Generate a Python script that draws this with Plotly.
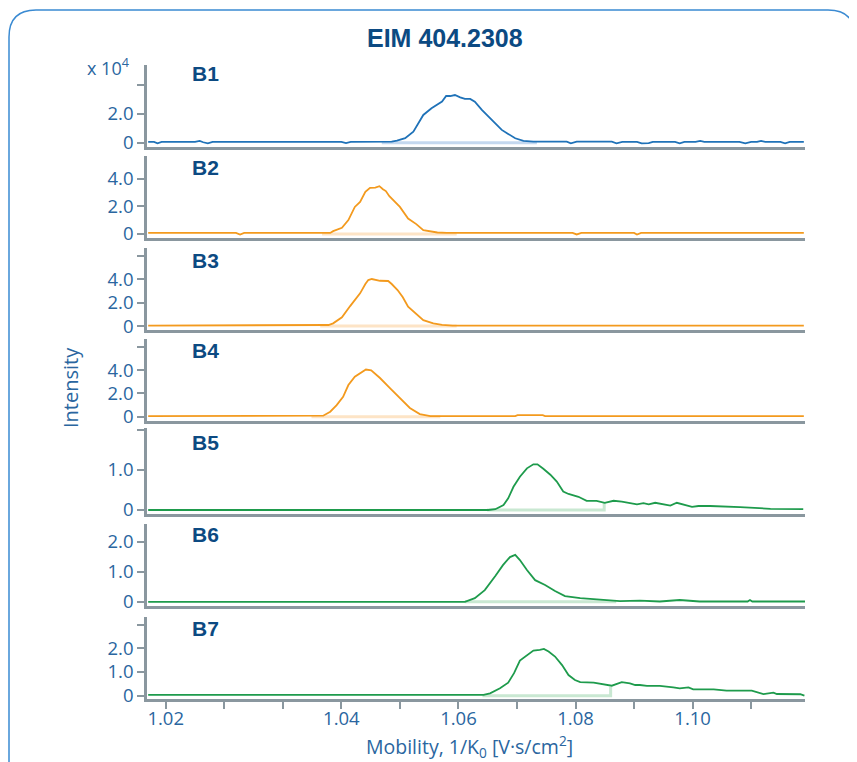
import plotly.graph_objects as go

# ---------------- data ----------------
panel_names = ["B1", "B2", "B3", "B4", "B5", "B6", "B7"]

b1_x = [1.0070, 1.0080, 1.0086, 1.0093, 1.0150, 1.0158, 1.0164, 1.0172, 1.0180, 1.0250, 1.0320, 1.0400,
        1.0408, 1.0416, 1.0486, 1.0495, 1.0509, 1.0523, 1.0540, 1.0554, 1.0572, 1.0579, 1.0586, 1.0594,
        1.0603, 1.0611, 1.0620, 1.0628, 1.0640, 1.0651, 1.0663, 1.0674, 1.0685, 1.0697, 1.0711, 1.0728,
        1.0785, 1.0792, 1.0802, 1.0862, 1.0870, 1.0880, 1.0905, 1.0913, 1.0925, 1.0932, 1.0970, 1.0978,
        1.0986, 1.1005, 1.1013, 1.1020, 1.1080, 1.1090, 1.1100, 1.1110, 1.1117, 1.1124, 1.1150, 1.1158,
        1.1166, 1.1190]
b1_y = [0.06, 0.05, -0.04, 0.05, 0.06, 0.12, 0.03, -0.05, 0.05, 0.06, 0.06, 0.06,
        -0.03, 0.05, 0.07, 0.14, 0.31, 0.77, 1.93, 2.40, 2.86, 3.25, 3.25, 3.32,
        3.16, 3.05, 3.05, 2.86, 2.28, 1.81, 1.35, 0.89, 0.61, 0.31, 0.12, 0.07,
        0.07, -0.05, 0.07, 0.07, -0.04, 0.06, 0.06, -0.05, -0.03, 0.06, 0.06, -0.04,
        0.06, 0.06, 0.12, 0.05, 0.05, -0.05, 0.06, 0.06, 0.13, 0.05, 0.05, -0.04,
        0.06, 0.06]

b2_x = [1.0070, 1.0220, 1.0227, 1.0234, 1.0381, 1.0386, 1.0401, 1.0412, 1.0423, 1.0432, 1.0441, 1.0449,
        1.0458, 1.0465, 1.0471, 1.0476, 1.0482, 1.0492, 1.0500, 1.0514, 1.0528, 1.0540, 1.0553, 1.0564,
        1.0580, 1.0795, 1.0802, 1.0810, 1.0900, 1.0905, 1.0912, 1.1190]
b2_y = [0.07, 0.07, -0.05, 0.07, 0.07, 0.20, 0.44, 1.00, 1.96, 2.33, 3.05, 3.35,
        3.37, 3.47, 3.25, 3.11, 2.74, 2.33, 1.96, 1.12, 0.71, 0.27, 0.20, 0.10,
        0.07, 0.07, -0.04, 0.07, 0.07, -0.05, 0.07, 0.07]

b3_x = [1.0070, 1.0370, 1.0378, 1.0386, 1.0401, 1.0415, 1.0432, 1.0441, 1.0446, 1.0452, 1.0466, 1.0480,
        1.0486, 1.0496, 1.0505, 1.0514, 1.0526, 1.0540, 1.0557, 1.0572, 1.0590, 1.1190]
b3_y = [0.03, 0.03, 0.09, 0.23, 0.75, 1.71, 2.80, 3.60, 3.94, 4.03, 3.88, 3.86,
        3.60, 3.08, 2.46, 1.65, 1.10, 0.51, 0.23, 0.09, 0.03, 0.03]

b4_x = [1.0070, 1.0358, 1.0369, 1.0381, 1.0392, 1.0403, 1.0412, 1.0423, 1.0432, 1.0442, 1.0451, 1.0466,
        1.0483, 1.0500, 1.0517, 1.0534, 1.0552, 1.0697, 1.0701, 1.0744, 1.0748, 1.1190]
b4_y = [0.06, 0.06, 0.09, 0.43, 1.00, 1.71, 2.72, 3.43, 3.72, 4.05, 3.98, 3.32,
        2.46, 1.60, 0.75, 0.23, 0.06, 0.06, 0.14, 0.14, 0.06, 0.06]

b5_x = [1.0070, 1.0651, 1.0663, 1.0677, 1.0685, 1.0694, 1.0705, 1.0717, 1.0728, 1.0735, 1.0745, 1.0757,
        1.0768, 1.0779, 1.0788, 1.0805, 1.0819, 1.0836, 1.0850, 1.0865, 1.0879, 1.0893, 1.0905, 1.0916,
        1.0925, 1.0936, 1.0947, 1.0962, 1.0973, 1.0987, 1.0999, 1.1010, 1.1030, 1.1081, 1.1133, 1.1189]
b5_y = [0.00, 0.00, 0.02, 0.125, 0.29, 0.58, 0.83, 1.04, 1.14, 1.14, 1.03, 0.88,
        0.71, 0.46, 0.40, 0.33, 0.23, 0.23, 0.18, 0.23, 0.21, 0.18, 0.14, 0.17,
        0.14, 0.18, 0.15, 0.11, 0.18, 0.125, 0.08, 0.10, 0.10, 0.07, 0.03, 0.02]

b6_x = [1.0070, 1.0611, 1.0628, 1.0645, 1.0663, 1.0676, 1.0688, 1.0697, 1.0705, 1.0717, 1.0731, 1.0748,
        1.0765, 1.0782, 1.0808, 1.0842, 1.0876, 1.0910, 1.0944, 1.0978, 1.1012, 1.1094, 1.1098, 1.1102,
        1.1192]
b6_y = [0.00, 0.00, 0.12, 0.39, 0.86, 1.22, 1.49, 1.56, 1.39, 1.06, 0.72, 0.56,
        0.36, 0.19, 0.12, 0.06, 0.02, 0.04, 0.01, 0.06, 0.01, 0.01, 0.06, 0.01,
        0.01]

b7_x = [1.0070, 1.0643, 1.0654, 1.0671, 1.0685, 1.0695, 1.0705, 1.0717, 1.0728, 1.0739, 1.0746, 1.0754,
        1.0765, 1.0777, 1.0788, 1.0799, 1.0808, 1.0831, 1.0851, 1.0862, 1.0879, 1.0893, 1.0902, 1.0910,
        1.0922, 1.0944, 1.0967, 1.0978, 1.0993, 1.1001, 1.1036, 1.1058, 1.1101, 1.1121, 1.1138, 1.1144,
        1.1184, 1.1191]
b7_y = [0.03, 0.03, 0.10, 0.31, 0.55, 0.95, 1.48, 1.72, 1.90, 1.93, 1.97, 1.86,
        1.65, 1.29, 0.87, 0.66, 0.57, 0.55, 0.45, 0.42, 0.57, 0.52, 0.45, 0.45,
        0.41, 0.41, 0.35, 0.31, 0.35, 0.27, 0.27, 0.21, 0.21, 0.07, 0.13, 0.07,
        0.06, 0.00]

# integration windows (start, end, height of end marker)
integ_start = [1.0469, 1.0367, 1.0364, 1.0349, 1.0649, 1.0611, 1.0641]
integ_end = [1.0734, 1.0597, 1.0597, 1.0569, 1.0849, 1.0867, 1.0860]
integ_end_height = [0.0, 0.0, 0.0, 0.0, 0.18, 0.05, 0.38]

# y-axis ticks per panel (labelled major ticks, unlabelled minor ticks)
y_tickvals = [[0, 2], [0, 2, 4], [0, 2, 4], [0, 2, 4], [0, 1], [0, 1, 2], [0, 1, 2]]
y_ticktext = [["0", "2.0"], ["0", "2.0", "4.0"], ["0", "2.0", "4.0"], ["0", "2.0", "4.0"],
              ["0", "1.0"], ["0", "1.0", "2.0"], ["0", "1.0", "2.0"]]
y_minorvals = [[4], [], [6], [6], [2], [], [3]]
y_ranges = [[-0.28, 5.41], [-0.30, 5.70], [-0.34, 6.73], [-0.34, 6.64], [-0.10, 2.04], [-0.14, 2.59], [-0.14, 3.33]]

x_tickvals = [1.01, 1.04, 1.06, 1.08, 1.10]
x_ticktext = ["1.02", "1.04", "1.06", "1.08", "1.10"]
x_minorvals = [1.02, 1.03, 1.05, 1.07, 1.09, 1.11]
x_range = [1.0068, 1.1192]

# ---------------- styling ----------------
OFF = 8                      # page body margin of the html page
W, H = 857 - OFF, 762 - OFF


def fx(p):
    return (p - OFF) / W


def fy(p):
    return 1 - (p - OFF) / H


xs = [b1_x, b2_x, b3_x, b4_x, b5_x, b6_x, b7_x]
ys = [b1_y, b2_y, b3_y, b4_y, b5_y, b6_y, b7_y]
line_col = ["#1f72b8", "#f39a1e", "#f39a1e", "#f39a1e", "#1e9b4c", "#1e9b4c", "#1e9b4c"]
light_col = ["#c4d8ef", "#fde4c6", "#fde4c6", "#fde4c6", "#c9e8d2", "#c9e8d2", "#c9e8d2"]
panel_px = [(65, 146.7), (155.5, 238), (247.5, 330), (339.3, 420.7), (428.3, 514), (524, 606), (616.7, 699)]
label_px = [73, 167, 260, 351, 443, 534, 628]

AX = "#8a979f"
TXT = "#2a66a0"
NAVY = "#0c4a82"
FONT = "Open Sans, Roboto, Arial, sans-serif"
BFONT = "Arial, Liberation Sans, sans-serif"

fig = go.Figure()
layout = dict(
    width=W, height=H, margin=dict(l=0, r=0, t=0, b=0),
    paper_bgcolor="white", plot_bgcolor="white", showlegend=False,
    font=dict(family=FONT, color=TXT, size=17),
)

tickfont = dict(size=18.5, color=TXT, family=FONT)

for i in range(7):
    k = "" if i == 0 else str(i + 1)
    xa, ya = "x" + k, "y" + k
    fig.add_trace(go.Scatter(
        x=[integ_start[i], integ_end[i], integ_end[i]], y=[0, 0, integ_end_height[i]],
        mode="lines", line=dict(color=light_col[i], width=3), xaxis=xa, yaxis=ya, hoverinfo="skip"))
    fig.add_trace(go.Scatter(
        x=xs[i], y=ys[i], mode="lines", line=dict(color=line_col[i], width=1.8),
        xaxis=xa, yaxis=ya, name=panel_names[i]))
    top, bot = panel_px[i]
    last = i == 6
    xdict = dict(
        domain=[fx(147), fx(805)], range=x_range, anchor=ya,
        showline=True, linecolor=AX, linewidth=2.5, showgrid=False, zeroline=False,
        automargin=False, showticklabels=False,
    )
    if last:
        xdict.update(ticks="outside", ticklen=7, tickwidth=1.5, tickcolor=AX,
                     tickmode="array", tickvals=x_tickvals,
                     minor=dict(tickmode="array", tickvals=x_minorvals, ticks="outside",
                                ticklen=7, tickwidth=1.5, tickcolor=AX, showgrid=False))
    else:
        xdict.update(ticks="", tickmode="array", tickvals=[])
    layout["xaxis" + k] = xdict
    ydict = dict(
        domain=[fy(bot), fy(top)], range=y_ranges[i], anchor=xa,
        showline=True, linecolor=AX, linewidth=2.5, showgrid=False, zeroline=False,
        ticks="outside", ticklen=7, tickwidth=1.5, tickcolor=AX,
        tickmode="array", tickvals=y_tickvals[i], ticktext=y_ticktext[i],
        tickfont=tickfont, automargin=False,
    )
    if y_minorvals[i]:
        ydict["minor"] = dict(tickmode="array", tickvals=y_minorvals[i], ticks="outside",
                              ticklen=7, tickwidth=1.5, tickcolor=AX, showgrid=False)
    layout["yaxis" + k] = ydict

# label-only x axis sitting just below the bottom panel (tight to its ticks)
fig.add_trace(go.Scatter(x=[], y=[], xaxis="x8", yaxis="y7", hoverinfo="skip", showlegend=False))
layout["xaxis8"] = dict(
    domain=[fx(147), fx(805)], range=x_range, overlaying="x7", anchor="free", position=fy(705),
    side="bottom", showline=False, showgrid=False, zeroline=False, ticks="",
    tickmode="array", tickvals=x_tickvals, ticktext=x_ticktext, tickfont=tickfont, automargin=False,
)

annotations = []
for i, name in enumerate(panel_names):
    annotations.append(dict(text="<b>" + name + "</b>", x=fx(190), y=fy(label_px[i]), xref="paper", yref="paper",
                            xanchor="left", yanchor="middle", showarrow=False,
                            font=dict(size=21, color=NAVY, family=BFONT)))
annotations.append(dict(text="<b>EIM 404.2308</b>", x=fx(445), y=fy(38), xref="paper", yref="paper",
                        xanchor="center", yanchor="middle", showarrow=False,
                        font=dict(size=25, color=NAVY, family=BFONT)))
annotations.append(dict(text="x 10<sup>4</sup>", x=fx(131), y=fy(67), xref="paper", yref="paper",
                        xanchor="right", yanchor="middle", showarrow=False,
                        font=dict(size=18, color=TXT, family=FONT)))
annotations.append(dict(text="Intensity", x=fx(70), y=fy(388), xref="paper", yref="paper",
                        xanchor="center", yanchor="middle", showarrow=False, textangle=-90,
                        font=dict(size=20, color=TXT, family=FONT)))
annotations.append(dict(text="Mobility, 1/K<sub>0</sub> [V·s/cm<sup>2</sup>]", x=fx(469), y=fy(746),
                        xref="paper", yref="paper", xanchor="center", yanchor="middle", showarrow=False,
                        font=dict(size=19.5, color=TXT, family=FONT)))
layout["annotations"] = annotations

# rounded frame
x0, y0, x1, y1, r = fx(9), fy(10), fx(855), fy(790), 27
rx, ry = r / W, r / H
path = (f"M {x0},{y1} L {x0},{y0 - ry} Q {x0},{y0} {x0 + rx},{y0} "
        f"L {x1 - rx},{y0} Q {x1},{y0} {x1},{y0 - ry} L {x1},{y1}")
layout["shapes"] = [dict(type="path", path=path, xref="paper", yref="paper",
                         line=dict(color="#3a8ad2", width=1.5))]

fig.update_layout(**layout)
fig.write_html("out.html")
